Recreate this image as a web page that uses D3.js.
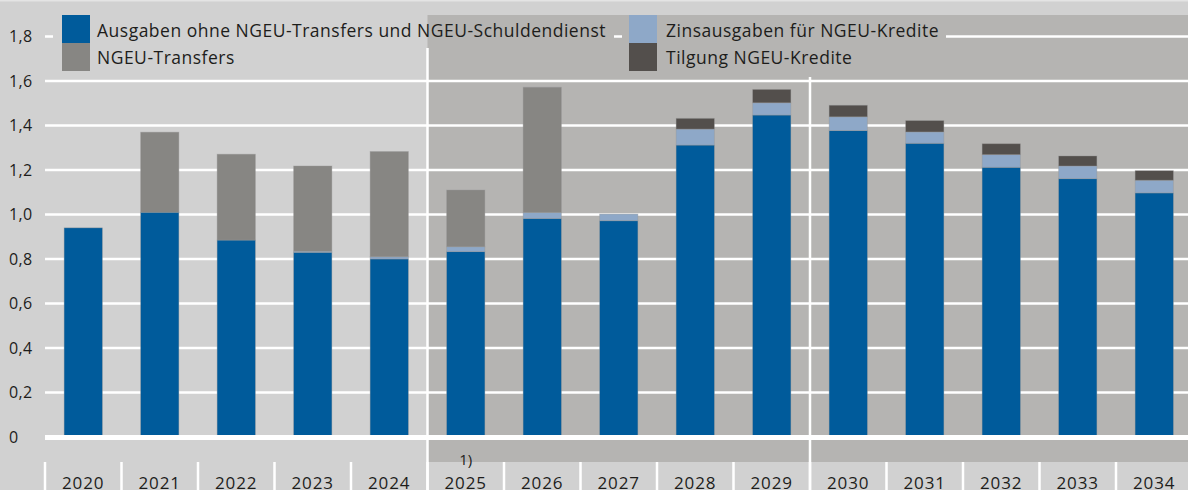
<!DOCTYPE html>
<html>
<head>
<meta charset="utf-8">
<script src="https://cdn.jsdelivr.net/npm/d3@7"></script>
<style>
  body { margin: 0; background: #d1d1d1; }
  svg { display: block; font-family: "Open Sans", sans-serif; }
  text { fill: #1d1d1b; }
</style>
</head>
<body>
<div id="chart"></div>
<script>
// data (share, in %)
var years = ["2020", "2021", "2022", "2023", "2024", "2025", "2026", "2027",
             "2028", "2029", "2030", "2031", "2032", "2033", "2034"];
var ausgaben  = [0.94, 1.01, 0.885, 0.83, 0.80, 0.833, 0.982, 0.972, 1.312, 1.447, 1.377, 1.32, 1.212, 1.161, 1.097];
var zins      = [0, 0, 0, 0.005, 0.01, 0.022, 0.027, 0.03, 0.072, 0.055, 0.062, 0.051, 0.057, 0.057, 0.057];
var transfers = [0, 0.36, 0.386, 0.383, 0.473, 0.255, 0.563, 0, 0, 0, 0, 0, 0, 0, 0];
var tilgung   = [0, 0, 0, 0, 0, 0, 0, 0, 0.048, 0.06, 0.052, 0.051, 0.049, 0.045, 0.043];
var yTicks = [0, 0.2, 0.4, 0.6, 0.8, 1.0, 1.2, 1.4, 1.6, 1.8];

var seriesLabels = {
  ausgaben: "Ausgaben ohne NGEU-Transfers und NGEU-Schuldendienst",
  transfers: "NGEU-Transfers",
  zins: "Zinsausgaben für NGEU-Kredite",
  tilgung: "Tilgung NGEU-Kredite"
};
var colors = {
  ausgaben: "#005b9b",
  zins: "#8ea8c8",
  transfers: "#878683",
  tilgung: "#534f4c"
};
var keys = ["ausgaben", "zins", "transfers", "tilgung"];

var W = 1188, H = 490;
var lightBg = "#d1d1d1", darkBg = "#b5b4b2";

var rows = years.map((y, i) => ({
  year: y,
  ausgaben: ausgaben[i],
  zins: zins[i],
  transfers: transfers[i],
  tilgung: tilgung[i]
}));

var svg = d3.select("#chart").append("svg")
  .attr("width", W)
  .attr("height", H);

var x = d3.scaleBand()
  .domain(years)
  .range([45, 1192.5])
  .paddingInner(0.5)
  .paddingOuter(0.25);
var step = x.step();
var bandLeft = d => x(d) - step * 0.25;

var y = d3.scaleLinear()
  .domain([0, 1.8])
  .range([437, 36.5]);

// panel split between 2024 and 2025
var splitX = bandLeft("2025");

// backgrounds
function drawBackground(g) {
  g.append("rect").attr("x", 0).attr("y", 0).attr("width", W).attr("height", H).attr("fill", lightBg);
  g.append("rect").attr("x", splitX).attr("y", 15).attr("width", W - splitX).attr("height", 447).attr("fill", darkBg);
  g.append("rect").attr("x", splitX).attr("y", 462).attr("width", W - splitX).attr("height", 28).attr("fill", lightBg);
}
drawBackground(svg.append("g"));
svg.append("rect").attr("x", 0).attr("y", 0).attr("width", W).attr("height", 1.5).attr("fill", "#e4e4e4");

// gridlines
svg.append("g")
  .selectAll("line")
  .data(yTicks.filter(d => d > 0))
  .enter()
  .append("line")
    .attr("x1", 45)
    .attr("x2", W)
    .attr("y1", d => y(d))
    .attr("y2", d => y(d))
    .attr("stroke", "#fff")
    .attr("stroke-width", 2.5);

// vertical separators of the period panels
svg.append("g")
  .selectAll("line")
  .data(["2025", "2030"])
  .enter()
  .append("line")
    .attr("x1", d => bandLeft(d))
    .attr("x2", d => bandLeft(d))
    .attr("y1", 15)
    .attr("y2", H)
    .attr("stroke", "#fff")
    .attr("stroke-width", 2.5);

// category ticks under the axis
svg.append("g")
  .selectAll("line")
  .data(years.concat(["end"]))
  .enter()
  .append("line")
    .attr("x1", (d, i) => 45 + i * step)
    .attr("x2", (d, i) => 45 + i * step)
    .attr("y1", 462)
    .attr("y2", H)
    .attr("stroke", "#fff")
    .attr("stroke-width", 2.5);

// legend boxes hide the gridlines behind them
var legendBoxes = [
  {x: 53, y: 15, w: 561, h: 33},
  {x: 53, y: 43, w: 192, h: 34},
  {x: 622, y: 15, w: 324, h: 33},
  {x: 622, y: 43, w: 243, h: 34}
];
var clip = svg.append("clipPath").attr("id", "legclip");
legendBoxes.forEach(b => {
  clip.append("rect").attr("x", b.x).attr("y", b.y).attr("width", b.w).attr("height", b.h);
});
drawBackground(svg.append("g").attr("clip-path", "url(#legclip)"));

// stacked bars
var stacked = d3.stack().keys(keys)(rows);
svg.append("g")
  .selectAll("g")
  .data(stacked)
  .enter()
  .append("g")
    .attr("fill", d => colors[d.key])
  .selectAll("rect")
  .data(d => d.filter(s => s[1] - s[0] > 0))
  .enter()
  .append("rect")
    .attr("x", d => x(d.data.year))
    .attr("width", x.bandwidth())
    .attr("y", d => y(d[1]))
    .attr("height", d => y(d[0]) - y(d[1]))
    .attr("stroke", "rgba(150,150,150,0.45)")
    .attr("stroke-width", 0.8);

// zero line
svg.append("line")
  .attr("x1", 45)
  .attr("x2", W)
  .attr("y1", y(0) + 0.5)
  .attr("y2", y(0) + 0.5)
  .attr("stroke", "#fff")
  .attr("stroke-width", 5);

// y axis labels
var yAxis = svg.append("g")
  .attr("transform", "translate(9,0)")
  .call(d3.axisLeft(y)
    .tickValues(yTicks)
    .tickSize(0)
    .tickPadding(0)
    .tickFormat(d => d === 0 ? "0" : d3.format(".1f")(d).replace(".", ",")));
yAxis.select(".domain").remove();
yAxis.selectAll("text")
  .attr("x", 0)
  .attr("text-anchor", "start")
  .attr("fill", "#1d1d1b")
  .style("font-size", "16px")
  .style("letter-spacing", "0.4px")
  .style("font-family", "'Open Sans', sans-serif");

// year labels (cut by the bottom edge, as in the source)
svg.append("g")
  .selectAll("text")
  .data(years)
  .enter()
  .append("text")
    .attr("x", d => x(d) + x.bandwidth() / 2)
    .attr("y", 489)
    .attr("text-anchor", "middle")
    .style("font-size", "17px")
    .style("letter-spacing", "0.9px")
    .text(d => d);

// footnote marker
svg.append("text")
  .attr("x", x("2025") + x.bandwidth() / 2)
  .attr("y", 465)
  .attr("text-anchor", "middle")
  .style("font-size", "15px")
  .text("1)");

// legend
var legendItems = [
  {key: "ausgaben", sx: 62, sy: 15, tx: 97, ty: 36.5},
  {key: "transfers", sx: 62, sy: 43, tx: 97, ty: 63.5},
  {key: "zins", sx: 629, sy: 15, tx: 666, ty: 36.5},
  {key: "tilgung", sx: 629, sy: 43, tx: 666, ty: 63.5}
];
var leg = svg.append("g");
leg.selectAll("rect")
  .data(legendItems)
  .enter()
  .append("rect")
    .attr("x", d => d.sx)
    .attr("y", d => d.sy)
    .attr("width", 28)
    .attr("height", 28)
    .attr("fill", d => colors[d.key]);
leg.selectAll("text")
  .data(legendItems)
  .enter()
  .append("text")
    .attr("x", d => d.tx)
    .attr("y", d => d.ty)
    .style("font-size", "17.5px")
    .style("letter-spacing", "0.5px")
    .text(d => seriesLabels[d.key]);
</script>
</body>
</html>
